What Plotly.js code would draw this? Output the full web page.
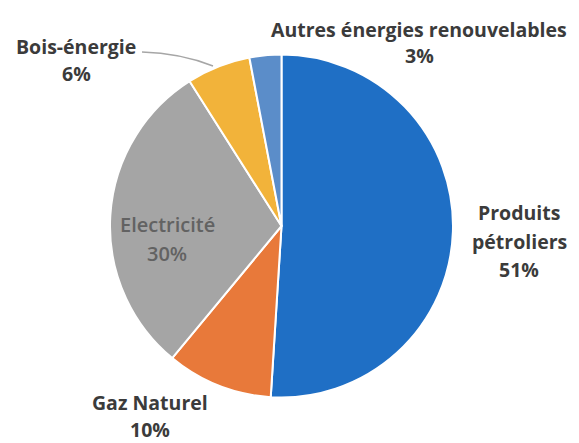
<!DOCTYPE html>
<html>
<head>
<meta charset="utf-8">
<script src="https://cdn.plot.ly/plotly-3.0.1.min.js"></script>
<style>html,body{margin:0;padding:0;background:#fff;}#chart{width:579px;height:443px;}</style>
</head>
<body>
<div id="chart"></div>
<script>
// Data
const labels = ["Produits pétroliers", "Gaz Naturel", "Electricité", "Bois-énergie", "Autres énergies renouvelables"];
const values = [51, 10, 30, 6, 3];
const colors = ["#1f6fc5", "#e8793a", "#a5a5a5", "#f2b33a", "#5b8dc9"];
// label lines as displayed (name lines, then percent)
const labelLines = [["Produits", "pétroliers"], ["Gaz Naturel"], ["Electricité"], ["Bois-énergie"], ["Autres énergies renouvelables"]];

const W = 579, H = 443;
const px = x => x / W;
const py = y => 1 - y / H;

// label anchor positions (pixel centres of first line) and line spacing
const labelPos = [[519, 213], [150, 402], [167, 224], [76, 47], [419, 30]];
const lineGaps = [28, 27, 29, 26, 25];

const annotations = [];
labels.forEach((lab, i) => {
  const lines = labelLines[i].concat([values[i] + "%"]);
  const inside = (i === 2);
  lines.forEach((t, k) => {
    annotations.push({
      text: t,
      xref: "paper", yref: "paper",
      x: px(labelPos[i][0]), y: py(labelPos[i][1] + k * lineGaps[i]),
      xanchor: "center", yanchor: "middle",
      borderpad: 0,
      showarrow: false,
      font: {family: "'Open Sans', Lato, sans-serif", size: inside ? 20 : 19.5, weight: inside ? 600 : "bold", color: inside ? "#626262" : "#3b3b3b"}
    });
  });
});

const trace = {
  type: "pie",
  labels: labels,
  values: values,
  sort: false,
  direction: "clockwise",
  rotation: 0,
  textinfo: "none",
  hoverinfo: "label+percent",
  marker: {colors: colors, line: {color: "#ffffff", width: 2}},
  domain: {x: [px(110), px(453)], y: [py(398), py(54)]}
};

const layout = {
  width: W, height: H,
  margin: {l: 0, r: 0, t: 0, b: 0},
  paper_bgcolor: "#ffffff",
  showlegend: false,
  annotations: annotations,
  shapes: [{
    type: "path", xref: "paper", yref: "paper",
    path: `M ${px(142)} ${py(52)} Q ${px(180)} ${py(53)} ${px(213)} ${py(66)}`,
    line: {color: "#a6a6a6", width: 1.5}
  }]
};

Plotly.newPlot("chart", [trace], layout, {displayModeBar: false, staticPlot: true});
</script>
</body>
</html>
